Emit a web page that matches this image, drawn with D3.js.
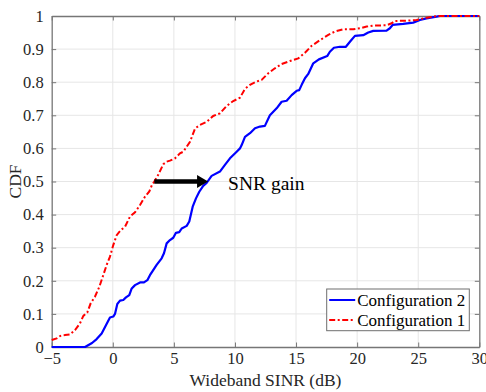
<!DOCTYPE html>
<html>
<head>
<meta charset="utf-8">
<script src="https://cdn.jsdelivr.net/npm/d3@7"></script>
<style>
  html, body { margin: 0; padding: 0; background: #fff; }
  svg { display: block; }
</style>
</head>
<body>
<svg id="chart" width="486" height="392"></svg>
<script>
// Wideband SINR samples (dB) and empirical CDF for each configuration
const sinrConfig2 = [-5, -2.27, -1.7, -1.32, -0.91, -0.56, -0.23, 0.04, 0.18, 0.37, 0.59, 0.86, 1.08, 1.35, 1.55, 1.82, 2.23, 2.55, 2.83, 3.04, 3.27, 3.59, 4.0, 4.19, 4.41, 4.68, 4.95, 5.17, 5.44, 5.64, 6.05, 6.26, 6.54, 6.81, 7.08, 7.4, 7.68, 8.09, 8.77, 9.18, 9.59, 10.14, 10.41, 10.55, 10.82, 11.23, 11.64, 12.05, 12.45, 12.86, 13.41, 13.82, 14.23, 14.64, 15.05, 15.26, 15.46, 15.73, 16.0, 16.41, 16.87, 17.55, 17.77, 18.1, 18.59, 19.08, 19.41, 19.82, 20.5, 20.91, 21.32, 22.41, 22.68, 22.9, 23.77, 24.59, 25.14, 25.68, 26.5, 26.77, 30];
const cdfConfig2 = [0, 0, 0.012, 0.024, 0.041, 0.066, 0.089, 0.092, 0.10, 0.13, 0.14, 0.142, 0.15, 0.157, 0.177, 0.187, 0.195, 0.195, 0.202, 0.217, 0.23, 0.248, 0.268, 0.283, 0.313, 0.323, 0.33, 0.345, 0.347, 0.358, 0.366, 0.379, 0.424, 0.449, 0.469, 0.487, 0.496, 0.517, 0.53, 0.55, 0.57, 0.59, 0.60, 0.61, 0.635, 0.646, 0.661, 0.666, 0.668, 0.70, 0.721, 0.741, 0.744, 0.761, 0.774, 0.776, 0.792, 0.812, 0.825, 0.857, 0.869, 0.879, 0.892, 0.904, 0.907, 0.907, 0.922, 0.94, 0.942, 0.95, 0.955, 0.956, 0.963, 0.973, 0.976, 0.98, 0.988, 0.993, 0.998, 1.0, 1.0];

const sinrConfig1 = [-5, -4.59, -4.32, -3.91, -3.5, -3.09, -2.68, -2.41, -2.09, -1.81, -1.46, -1.1, -0.78, -0.5, -0.23, 0.04, 0.32, 0.65, 1.0, 1.41, 1.82, 2.23, 2.63, 2.99, 3.2, 3.4, 3.72, 4.13, 4.41, 4.68, 5.09, 5.5, 5.77, 6.32, 6.73, 7.14, 7.68, 8.22, 8.77, 9.32, 9.86, 10.41, 10.82, 11.23, 11.78, 12.18, 12.73, 13.27, 13.82, 14.5, 15.18, 15.73, 16.28, 16.96, 17.64, 18.18, 18.86, 19.68, 20.23, 20.78, 21.32, 22.41, 22.82, 23.09, 24.05, 24.86, 25.68, 26.64, 30];
const cdfConfig1 = [0.021, 0.026, 0.033, 0.036, 0.038, 0.051, 0.072, 0.094, 0.104, 0.132, 0.152, 0.182, 0.217, 0.248, 0.273, 0.308, 0.338, 0.353, 0.363, 0.394, 0.407, 0.429, 0.454, 0.47, 0.489, 0.50, 0.52, 0.552, 0.56, 0.563, 0.57, 0.585, 0.59, 0.62, 0.66, 0.671, 0.68, 0.698, 0.706, 0.728, 0.743, 0.753, 0.78, 0.792, 0.802, 0.807, 0.827, 0.842, 0.855, 0.864, 0.872, 0.889, 0.91, 0.927, 0.943, 0.953, 0.96, 0.96, 0.963, 0.968, 0.971, 0.972, 0.978, 0.985, 0.986, 0.988, 0.995, 1.0, 1.0];

const xTicks = [-5, 0, 5, 10, 15, 20, 25, 30];
const yTicks = [0, 0.1, 0.2, 0.3, 0.4, 0.5, 0.6, 0.7, 0.8, 0.9, 1];
const yTickLabels = ["0", "0.1", "0.2", "0.3", "0.4", "0.5", "0.6", "0.7", "0.8", "0.9", "1"];

const seriesNames = ["Configuration 2", "Configuration 1"];

// SNR gain annotation at the median
const gainLevel = 0.5;
const gainFrom = 3.4;
const gainTo = 7.8;
const gainLabel = "SNR gain";

const serif = "'Liberation Serif', 'Times New Roman', 'DejaVu Serif', serif";

const svg = d3.select("#chart").attr("font-family", serif);
const W = 486, H = 392;
const margin = { left: 51.7, right: W - 479.3, top: 16, bottom: H - 347 };

const x = d3.scaleLinear().domain([-5, 30]).range([margin.left, W - margin.right]);
const y = d3.scaleLinear().domain([0, 1]).range([H - margin.bottom, margin.top]);

const axisColor = "#767676";
const gridColor = "#e6e6e6";

// grid
const grid = svg.append("g");
grid.selectAll("line.gx").data(xTicks.slice(1, -1)).join("line")
  .attr("x1", d => x(d)).attr("x2", d => x(d))
  .attr("y1", y(0)).attr("y2", y(1))
  .attr("stroke", gridColor).attr("stroke-width", 1);
grid.selectAll("line.gy").data(yTicks.slice(1, -1)).join("line")
  .attr("y1", d => y(d)).attr("y2", d => y(d))
  .attr("x1", x(-5)).attr("x2", x(30))
  .attr("stroke", gridColor).attr("stroke-width", 1);

// axes (ticks pointing inward, box on all sides)
const tickLen = 4.5;
const axisBottom = svg.append("g").attr("transform", `translate(0,${y(0)})`)
  .call(d3.axisBottom(x).tickValues(xTicks).tickSizeInner(-tickLen).tickSizeOuter(0).tickPadding(5));
const axisLeft = svg.append("g").attr("transform", `translate(${x(-5)},0)`)
  .call(d3.axisLeft(y).tickValues(yTicks).tickFormat((d, i) => yTickLabels[i]).tickSizeInner(-tickLen).tickSizeOuter(0).tickPadding(8));
const axisTop = svg.append("g").attr("transform", `translate(0,${y(1)})`)
  .call(d3.axisTop(x).tickValues(xTicks).tickSizeInner(-tickLen).tickSizeOuter(0).tickFormat(""));
const axisRight = svg.append("g").attr("transform", `translate(${x(30)},0)`)
  .call(d3.axisRight(y).tickValues(yTicks).tickSizeInner(-tickLen).tickSizeOuter(0).tickFormat(""));

[axisBottom, axisLeft, axisTop, axisRight].forEach(g => {
  g.attr("font-family", serif).attr("font-size", 16.5);
  g.select(".domain").attr("stroke", axisColor).attr("stroke-width", 1.3);
  g.selectAll(".tick line").attr("stroke", axisColor).attr("stroke-width", 1);
  g.selectAll(".tick text")
    .attr("fill", "#262626")
    .attr("font-family", serif)
    .attr("font-size", 16.5);
});

// curves
const line = d3.line().x(d => x(d[0])).y(d => y(d[1]));
const data2 = sinrConfig2.map((v, i) => [v, cdfConfig2[i]]);
const data1 = sinrConfig1.map((v, i) => [v, cdfConfig1[i]]);

svg.append("path").datum(data2)
  .attr("d", line).attr("fill", "none")
  .attr("stroke", "#0000ff").attr("stroke-width", 2.2).attr("stroke-linejoin", "round");

svg.append("path").datum(data1)
  .attr("d", line).attr("fill", "none")
  .attr("stroke", "#ff0000").attr("stroke-width", 2)
  .attr("stroke-dasharray", "6,2.5,2,2.5");

// SNR gain arrow
const ax0 = x(gainFrom), ax1 = x(gainTo), ay = y(gainLevel);
const headLen = 11, headHalf = 6.5;
svg.append("line")
  .attr("x1", ax0).attr("x2", ax1 - headLen + 1)
  .attr("y1", ay).attr("y2", ay)
  .attr("stroke", "#000").attr("stroke-width", 4.5);
svg.append("path")
  .attr("d", `M${ax1},${ay} L${ax1 - headLen},${ay - headHalf} L${ax1 - headLen},${ay + headHalf} Z`)
  .attr("fill", "#000");
svg.append("text")
  .attr("x", ax1 + 20).attr("y", ay + 8)
  .attr("font-family", serif).attr("font-size", 19.5).attr("fill", "#000")
  .text(gainLabel);

// axis titles
svg.append("text")
  .attr("x", (x(-5) + x(30)) / 2).attr("y", 386)
  .attr("text-anchor", "middle").attr("font-family", serif).attr("font-size", 17.5).attr("fill", "#262626")
  .text("Wideband SINR (dB)");
svg.append("text")
  .attr("transform", `translate(21,${(y(0) + y(1)) / 2}) rotate(-90)`)
  .attr("text-anchor", "middle").attr("font-family", serif).attr("font-size", 17.5).attr("fill", "#262626")
  .text("CDF");

// legend
const lg = svg.append("g");
const lgX = 326.7, lgY = 289, lgW = 142.6, lgH = 41.7;
lg.append("rect")
  .attr("x", lgX).attr("y", lgY).attr("width", lgW).attr("height", lgH)
  .attr("fill", "#fff").attr("stroke", "#6e6e6e").attr("stroke-width", 1);
const legendStyles = [
  { color: "#0000ff", dash: null },
  { color: "#ff0000", dash: "6,2.5,2,2.5" }
];
seriesNames.forEach((name, i) => {
  const cy = lgY + 11 + i * 20;
  const l = lg.append("line")
    .attr("x1", lgX + 2.5).attr("x2", lgX + 28.5)
    .attr("y1", cy).attr("y2", cy)
    .attr("stroke", legendStyles[i].color).attr("stroke-width", 2);
  if (legendStyles[i].dash) l.attr("stroke-dasharray", legendStyles[i].dash);
  lg.append("text")
    .attr("x", lgX + 30.5).attr("y", cy + 5.5)
    .attr("font-family", serif).attr("font-size", 17).attr("fill", "#000")
    .text(name);
});
</script>
</body>
</html>
